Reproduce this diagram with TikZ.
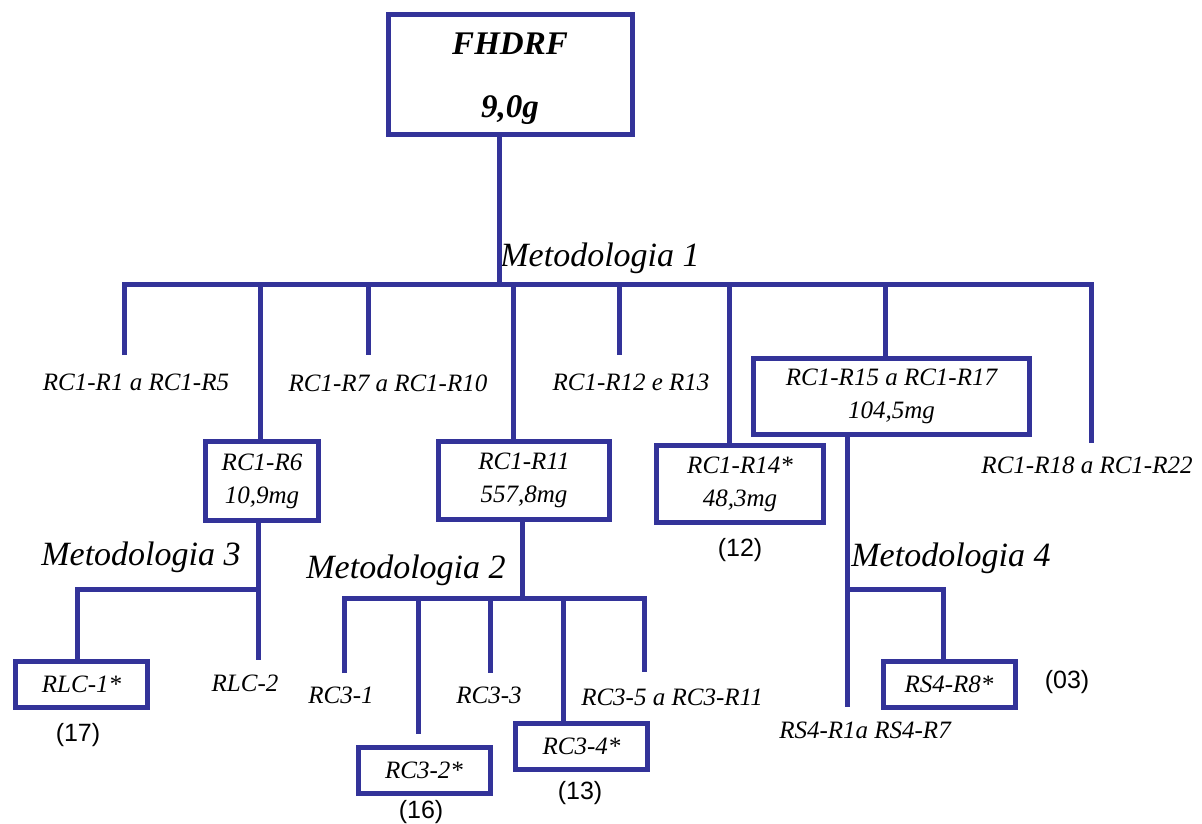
\documentclass[tikz,border=0pt]{standalone}
\usepackage{fontspec}
\setmainfont{Liberation Serif}
\newfontfamily\countfont{Liberation Sans}
\usepackage{tikz}
\newcommand{\rulewidth}{2.5pt}
\definecolor{treeblue}{RGB}{51,51,153}
\tikzset{
  line/.style={draw=treeblue,line width=\rulewidth,line join=miter},
  box/.style={draw=treeblue,line width=\rulewidth,shape=rectangle,align=center,inner sep=0pt,font=\fontsize{12.5}{16.5}\selectfont\itshape},
  smallbox/.style={box,minimum width=66pt,minimum height=23pt},
  leaf/.style={inner sep=0pt,font=\fontsize{12.5}{15}\selectfont\itshape},
  method/.style={inner sep=0pt,font=\fontsize{17}{20}\selectfont\itshape},
  count/.style={inner sep=0pt,font=\countfont\fontsize{12.5}{15}\selectfont}
}

\begin{document}
\begin{tikzpicture}[x=0.5pt,y=-0.5pt]
    \useasboundingbox (0,0) rectangle (1202,823);

    \node (root) [box,minimum width=122pt,minimum height=60pt,font=\fontsize{16.5}{20}\selectfont\bfseries\itshape] at (510,75) {\rule{0pt}{15pt}FHDRF\\[11.5pt]9,0g};
    \node (r6) [box,minimum width=56.5pt,minimum height=39.5pt] at (262,481) {RC1-R6\\10,9mg};
    \node (r11) [box,minimum width=85.5pt,minimum height=39pt] at (524,480.5) {RC1-R11\\557,8mg};
    \node (r14) [box,minimum width=83.5pt,minimum height=38.5pt] at (740,484) {RC1-R14*\\48,3mg};
    \node (r15) [box,minimum width=138pt,minimum height=38pt] at (891.5,396.5) {RC1-R15 a RC1-R17\\104,5mg};
    \node (rlc1) [smallbox] at (81.5,684.5) {RLC-1*};
    \node (rc32) [smallbox] at (424,770) {RC3-2*};
    \node (rc34) [smallbox] at (581.5,746) {RC3-4*};
    \node (rs48) [smallbox] at (949,684) {RS4-R8*};

    \node (l1) [leaf] at (136,382) {RC1-R1 a RC1-R5};
    \node (l7) [leaf] at (388,383) {RC1-R7 a RC1-R10};
    \node (l12) [leaf] at (631,382) {RC1-R12 e R13};
    \node (l18) [leaf] at (1087,465) {RC1-R18 a RC1-R22};
    \node (rlc2) [leaf] at (245,683) {RLC-2};
    \node (rc31) [leaf] at (341,695) {RC3-1};
    \node (rc33) [leaf] at (489,695) {RC3-3};
    \node (rc35) [leaf] at (672,697) {RC3-5 a RC3-R11};
    \node (rs41) [leaf] at (865,730) {RS4-R1a RS4-R7};

    \node (meth1) [method] at (600,258) {Metodologia 1};
    \node (meth2) [method] at (406,570) {Metodologia 2};
    \node (meth3) [method] at (141,557) {Metodologia 3};
    \node (meth4) [method] at (951,558) {Metodologia 4};

    \node (n12) [count] at (740,550) {(12)};
    \node (n17) [count] at (78,735) {(17)};
    \node (n16) [count] at (421,812) {(16)};
    \node (n13) [count] at (580,793) {(13)};
    \node (n03) [count] at (1067,682) {(03)};

    % first split
    \coordinate (m1) at (499,285);
    \foreach \i/\x in {1/124,2/260,3/368,4/513,5/619,6/729,7/885,8/1091}
      \coordinate (b\i) at (\x,285);
    \coordinate (c1) at (124,355);
    \coordinate (c3) at (368,355);
    \coordinate (c5) at (619,355);
    \coordinate (c8) at (1091,443);
    \path [line] (root.south -| m1) -- (m1);
    \path [line] (c1) -- (b1) -- (b8) -- (c8);
    \foreach \i in {3,5}
      \path [line] (b\i) -- (c\i);
    \foreach \i/\nd in {2/r6,4/r11,6/r14,7/r15}
      \path [line] (b\i) -- (b\i |- \nd.north);

    % RC1-R6
    \coordinate (m3) at (258,589);
    \coordinate (q3) at (258,660);
    \coordinate (t3) at (77,589);
    \path [line] (r6.south -| m3) -- (q3);
    \path [line] (m3) -- (t3) -- (t3 |- rlc1.north);

    % RC1-R11
    \coordinate (m2) at (522,598);
    \foreach \i/\x in {1/344,2/418,3/490,4/563,5/644}
      \coordinate (t2\i) at (\x,598);
    \coordinate (e21) at (344,673);
    \coordinate (e22) at (418,734);
    \coordinate (e23) at (490,673);
    \coordinate (e25) at (644,672);
    \path [line] (r11.south -| m2) -- (m2);
    \path [line] (e21) -- (t21) -- (t25) -- (e25);
    \foreach \i in {2,3}
      \path [line] (t2\i) -- (e2\i);
    \path [line] (t24) -- (t24 |- rc34.north);

    % RC1-R15 a RC1-R17
    \coordinate (m4) at (847,589);
    \coordinate (q4) at (847,707);
    \coordinate (t4) at (943,589);
    \path [line] (r15.south -| m4) -- (q4);
    \path [line] (m4) -- (t4) -- (t4 |- rs48.north);
\end{tikzpicture}
\end{document}
